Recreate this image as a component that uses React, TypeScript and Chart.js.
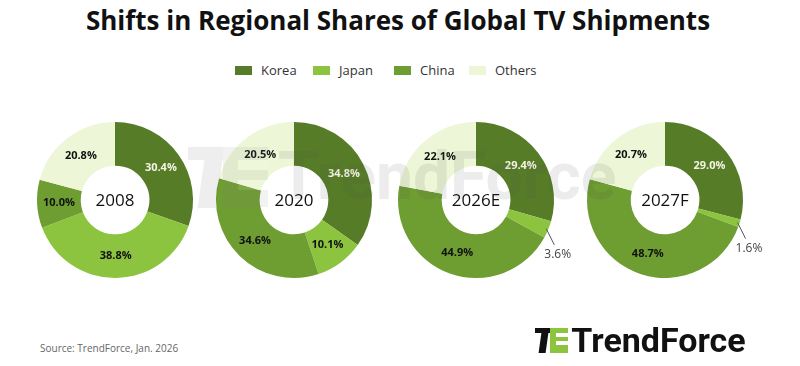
import React, { useEffect, useRef } from "react";
import { Chart, registerables } from "chart.js";

Chart.register(...registerables);

const categories = ["Korea", "Japan", "China", "Others"];
const colors = ["#567c28", "#8cc43f", "#6e9d31", "#edf6d6"];
const labelColors = ["#f4f4e2", "#111111", "#111111", "#111111"];
const years = ["2008", "2020", "2026E", "2027F"];
const share2008 = [30.4, 38.8, 10.0, 20.8];
const share2020 = [34.8, 10.1, 34.6, 20.5];
const share2026E = [29.4, 3.6, 44.9, 22.1];
const share2027F = [29.0, 1.6, 48.7, 20.7];
const seriesByYear = [share2008, share2020, share2026E, share2027F];
const centersX = [115, 294, 476, 665];
const centerY = 200;
const CANVAS = 220;

const labelPlugin = {
  id: "donutLabels",
  afterDatasetsDraw(chart: any) {
    const ctx = chart.ctx;
    const meta = chart.getDatasetMeta(0);
    const data = chart.data.datasets[0].data as number[];
    ctx.save();
    meta.data.forEach((arc: any, i: number) => {
      const p = arc.getProps(["x", "y", "startAngle", "endAngle", "innerRadius", "outerRadius"], true);
      const mid = (p.startAngle + p.endAngle) / 2;
      const v = data[i];
      const txt = v.toFixed(1) + "%";
      if (v >= 5) {
        const r = (p.innerRadius + p.outerRadius) / 2;
        ctx.font = "bold 11px 'Open Sans', 'Noto Sans', sans-serif";
        ctx.fillStyle = labelColors[i];
        ctx.textAlign = "center";
        ctx.textBaseline = "middle";
        ctx.fillText(txt, p.x + Math.cos(mid) * r, p.y + Math.sin(mid) * r);
      } else {
        const x0 = p.x + Math.cos(mid) * (p.outerRadius - 2);
        const y0 = p.y + Math.sin(mid) * (p.outerRadius - 2);
        const x1 = x0 + 8;
        const y1 = y0 + 16;
        ctx.strokeStyle = "#555";
        ctx.lineWidth = 1;
        ctx.beginPath();
        ctx.moveTo(x0, y0);
        ctx.lineTo(x1, y1);
        ctx.stroke();
        ctx.font = "12px 'Open Sans', 'Noto Sans', sans-serif";
        ctx.fillStyle = "#444";
        ctx.textAlign = "left";
        ctx.textBaseline = "middle";
        ctx.fillText(txt, x1 - 10, y1 + 10);
      }
    });
    ctx.font = "17px 'Open Sans', 'Noto Sans', sans-serif";
    ctx.fillStyle = "#111";
    ctx.textAlign = "center";
    ctx.textBaseline = "middle";
    const a = meta.data[0];
    ctx.fillText(chart.options.plugins.centerText.text, a.x, a.y + 1);
    ctx.restore();
  },
};

function Donut({ idx }: { idx: number }) {
  const ref = useRef<HTMLCanvasElement>(null);
  useEffect(() => {
    const chart = new Chart(ref.current!, {
      type: "doughnut",
      data: {
        labels: categories,
        datasets: [
          {
            data: seriesByYear[idx],
            backgroundColor: colors,
            borderWidth: 0,
          },
        ],
      },
      options: {
        responsive: false,
        animation: false,
        cutout: "44%",
        layout: { padding: 32 },
        plugins: {
          legend: { display: false },
          tooltip: { enabled: false },
          centerText: { text: years[idx] },
        } as any,
      },
      plugins: [labelPlugin],
    });
    return () => chart.destroy();
  }, [idx]);
  return (
    <canvas
      ref={ref}
      width={CANVAS}
      height={CANVAS}
      style={{
        position: "absolute",
        left: centersX[idx] - CANVAS / 2,
        top: centerY - CANVAS / 2,
        width: CANVAS,
        height: CANVAS,
      }}
    />
  );
}

function LogoIcon({ size, color1, color2 }: { size: number; color1: string; color2: string }) {
  const s = size / 24;
  return (
    <div style={{ position: "relative", width: 32 * s, height: 24 * s }}>
      <div style={{ position: "absolute", left: 0, top: 0, width: 15 * s, height: 5 * s, background: color1 }} />
      <div style={{ position: "absolute", left: 5 * s, top: 5 * s, width: 7 * s, height: 19 * s, background: color1, transform: "skewX(-8deg)" }} />
      <div style={{ position: "absolute", left: 14 * s, top: 0, width: 18 * s, height: 24 * s, background: color2 }} />
      <div style={{ position: "absolute", left: 20 * s, top: 5 * s, width: 12 * s, height: 4 * s, background: "#fff" }} />
      <div style={{ position: "absolute", left: 20 * s, top: 13 * s, width: 12 * s, height: 4 * s, background: "#fff" }} />
    </div>
  );
}

export default function App() {
  const legendX = [235, 313, 394, 469];
  return (
    <div
      style={{
        position: "fixed",
        left: 0,
        top: 0,
        width: 800,
        height: 366,
        background: "#fff",
        overflow: "hidden",
        fontFamily: "'Open Sans', 'Noto Sans', sans-serif",
      }}
    >
      <div
        style={{
          position: "absolute",
          left: 0,
          width: 796,
          top: 1,
          textAlign: "center",
          fontSize: 26,
          fontWeight: 700,
          color: "#111",
          lineHeight: "38px",
        }}
      >
        Shifts in Regional Shares of Global TV Shipments
      </div>
      {categories.map((c, i) => (
        <div key={c} style={{ position: "absolute", left: legendX[i], top: 60, height: 20, display: "flex", alignItems: "center" }}>
          <div style={{ width: 17, height: 9, background: colors[i], marginRight: 9 }} />
          <span style={{ fontSize: 13, color: "#333" }}>{c}</span>
        </div>
      ))}
      {years.map((y, i) => (
        <Donut key={y} idx={i} />
      ))}
      <div style={{ position: "absolute", left: 188, top: 146, opacity: 0.11, pointerEvents: "none", display: "flex", alignItems: "center" }}>
        <LogoIcon size={60} color1="#666" color2="#888" />
        <span style={{ fontFamily: "Roboto, sans-serif", fontWeight: 700, fontSize: 66, color: "#555", marginLeft: 10, lineHeight: "62px" }}>
          TrendForce
        </span>
      </div>
      <div style={{ position: "absolute", left: 40, top: 341, fontSize: 10, color: "#666" }}>Source: TrendForce, Jan. 2026</div>
      <div style={{ position: "absolute", left: 535, top: 327, display: "flex", alignItems: "center" }}>
        <LogoIcon size={25} color1="#111" color2="#8cc43f" />
        <span style={{ fontFamily: "Roboto, sans-serif", fontWeight: 700, fontSize: 34, color: "#111", marginLeft: 3, lineHeight: "26px" }}>
          TrendForce
        </span>
      </div>
    </div>
  );
}
